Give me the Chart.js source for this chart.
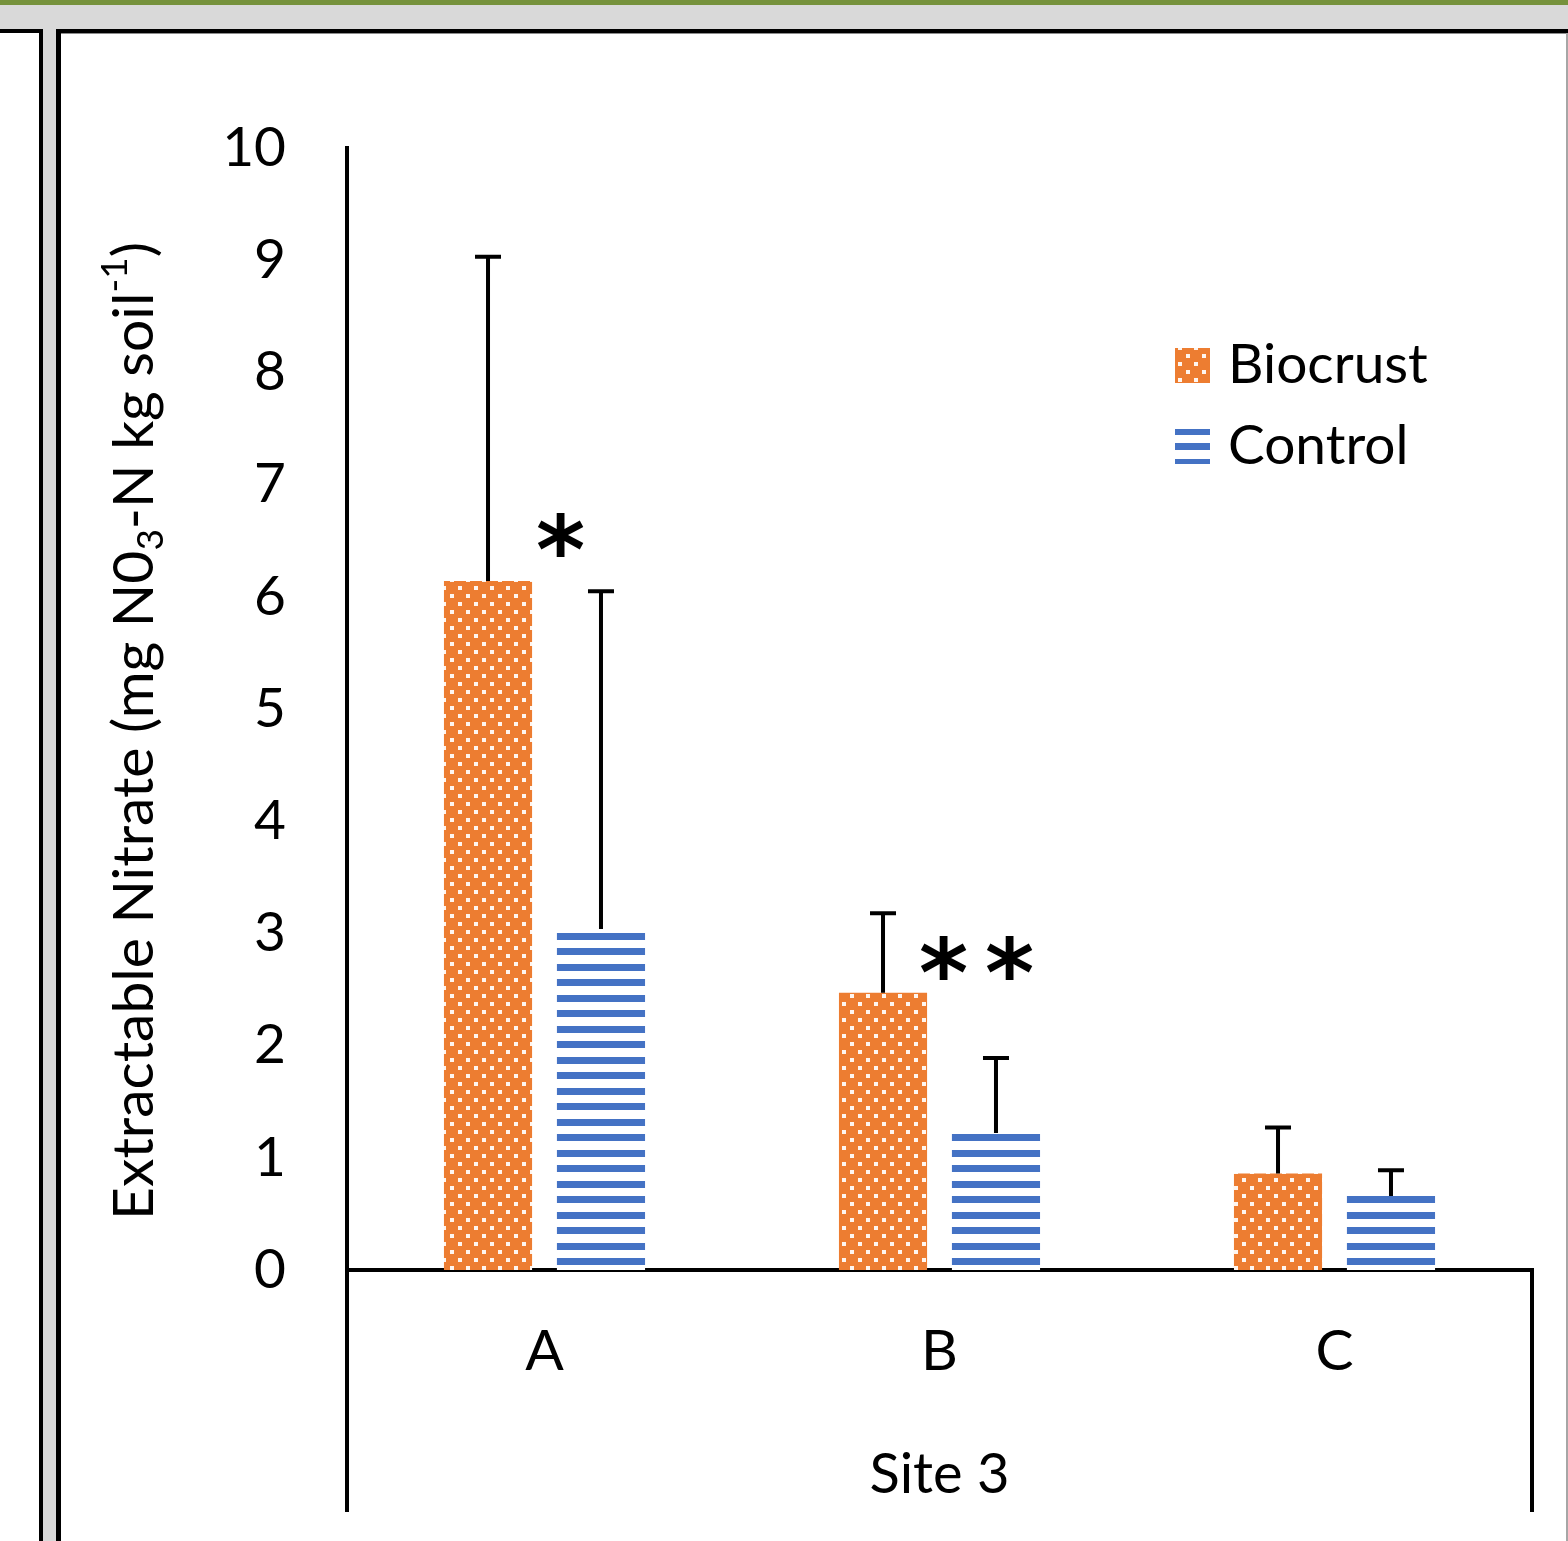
<!DOCTYPE html>
<html>
<head>
<meta charset="utf-8">
<script src="https://cdn.jsdelivr.net/npm/chart.js@4.4.1/dist/chart.umd.min.js"></script>
<style>
  html, body { margin: 0; padding: 0; background: #fff; }
  body { width: 1568px; height: 1541px; position: relative; overflow: hidden; }
  #chart { position: absolute; left: 0; top: 0; }
  .frame { position: absolute; }
</style>
</head>
<body>
<canvas id="chart" width="1568" height="1541"></canvas>
<!-- window frame around the chart -->
<div class="frame" style="left:0;top:0;width:1568px;height:5px;background:#76923c"></div>
<div class="frame" style="left:0;top:5px;width:1568px;height:24px;background:#d9d9d9"></div>
<div class="frame" style="left:0;top:29px;width:43px;height:4px;background:#000"></div>
<div class="frame" style="left:56px;top:29px;width:1512px;height:4px;background:#000"></div>
<div class="frame" style="left:61px;top:33px;width:1507px;height:1px;background:#8c8c8c"></div>
<div class="frame" style="left:39px;top:29px;width:4px;height:1512px;background:#000"></div>
<div class="frame" style="left:43px;top:5px;width:13px;height:1536px;background:#d9d9d9"></div>
<div class="frame" style="left:56px;top:29px;width:5px;height:1512px;background:#000"></div>
<div class="frame" style="left:1566px;top:33px;width:2px;height:1508px;background:#a6a6a6"></div>

<script>
// Chart data
const categories = ['A', 'B', 'C'];
const groupLabel = 'Site 3';
const biocrust = [6.14, 2.47, 0.86];
const biocrustErr = [2.89, 0.71, 0.41];
const control = [3.04, 1.22, 0.66];
const controlErr = [3.01, 0.67, 0.23];
const sigMarks = ['*', '**', ''];
const sigLevels = [6.53, 2.76, 0];
const yTicks = [0, 1, 2, 3, 4, 5, 6, 7, 8, 9, 10];

const ORANGE = '#ED7D31';
const BLUE = '#4472C4';
const FONT = 'Lato';

// Orange with small white dots
function dotPattern(ctx) {
  const c = document.createElement('canvas');
  c.width = 16; c.height = 16;
  const g = c.getContext('2d');
  g.fillStyle = ORANGE;
  g.fillRect(0, 0, 16, 16);
  g.fillStyle = 'rgba(255,255,255,0.92)';
  g.fillRect(2, 2, 4, 4);
  g.fillRect(10, 10, 4, 4);
  return ctx.createPattern(c, 'repeat');
}

// Blue horizontal stripes on white
function stripePattern(ctx) {
  const c = document.createElement('canvas');
  c.width = 4; c.height = 31;
  const g = c.getContext('2d');
  g.fillStyle = '#fff';
  g.fillRect(0, 0, 4, 31);
  g.fillStyle = BLUE;
  g.fillRect(0, 3, 4, 7);
  g.fillRect(0, 18, 4, 7);
  return ctx.createPattern(c, 'repeat');
}

// Upper error bars
const errorBars = {
  id: 'errorBars',
  afterDatasetsDraw(chart) {
    const ctx = chart.ctx;
    const yScale = chart.scales.y;
    const errs = [biocrustErr, controlErr];
    ctx.save();
    ctx.strokeStyle = '#000';
    ctx.lineWidth = 4;
    chart.data.datasets.forEach((ds, i) => {
      chart.getDatasetMeta(i).data.forEach((bar, j) => {
        const top = yScale.getPixelForValue(ds.data[j] + errs[i][j]);
        ctx.beginPath();
        ctx.moveTo(bar.x, bar.y);
        ctx.lineTo(bar.x, top);
        ctx.moveTo(bar.x - 13, top);
        ctx.lineTo(bar.x + 13, top);
        ctx.stroke();
      });
    });
    ctx.restore();
  }
};

// Significance asterisks
const sigPlugin = {
  id: 'sigMarks',
  afterDatasetsDraw(chart) {
    const ctx = chart.ctx;
    const xs = chart.scales.x, ys = chart.scales.y;
    ctx.save();
    ctx.fillStyle = '#000';
    ctx.font = 'bold 94px "DejaVu Sans"';
    ctx.textAlign = 'center';
    ctx.textBaseline = 'alphabetic';
    const m = ctx.measureText('*');
    const shift = (m.actualBoundingBoxAscent - m.actualBoundingBoxDescent) / 2;
    sigMarks.forEach((mark, i) => {
      if (!mark) return;
      const n = mark.length;
      const cx = xs.getPixelForValue(i) + 16 + (n - 1) * 21;
      const cy = ys.getPixelForValue(sigLevels[i]);
      for (let k = 0; k < n; k++) {
        ctx.fillText('*', cx + (k - (n - 1) / 2) * 66, cy + shift - 2);
      }
    });
    ctx.restore();
  }
};

// Legend inside the plot, top right
const insideLegend = {
  id: 'insideLegend',
  afterDraw(chart) {
    const { ctx, chartArea } = chart;
    const x = chartArea.right - 357;
    const base = chartArea.top + 235;
    ctx.save();
    ctx.font = '55px ' + FONT;
    ctx.textBaseline = 'alphabetic';
    ctx.textAlign = 'left';
    chart.data.datasets.forEach((ds, i) => {
      const b = base + i * 81;
      // shift the pattern so the swatch starts on a full stripe
      ctx.save();
      ctx.translate(0, i * 22);
      ctx.fillStyle = ds.backgroundColor;
      ctx.fillRect(x, b - 35 - i * 22, 35, 35);
      ctx.restore();
      ctx.fillStyle = '#000';
      ctx.fillText(ds.label, x + 53, b);
    });
    ctx.restore();
  }
};

// Rotated y title with sub/superscript, plus the axis extensions below the plot
const yTitle = {
  id: 'yTitle',
  afterDraw(chart) {
    const { ctx, chartArea } = chart;
    const F = 57, f = 37;
    const parts = [
      { t: 'Extractable Nitrate (mg N0', size: F, dy: 0 },
      { t: '3', size: f, dy: 10 },
      { t: '-N kg soil', size: F, dy: 0 },
      { t: '-1', size: f, dy: -26 },
      { t: ')', size: F, dy: 0 }
    ];
    ctx.save();
    let total = 0;
    parts.forEach(p => {
      ctx.font = p.size + 'px ' + FONT;
      p.w = ctx.measureText(p.t).width;
      total += p.w;
    });
    ctx.translate(153, 731);
    ctx.rotate(-Math.PI / 2);
    ctx.fillStyle = '#000';
    ctx.textBaseline = 'alphabetic';
    let x = -total / 2;
    parts.forEach(p => {
      ctx.font = p.size + 'px ' + FONT;
      ctx.fillText(p.t, x, p.dy);
      x += p.w;
    });
    ctx.restore();

    // multi-level category axis lines
    const bottom = chart.height - 29;
    ctx.save();
    ctx.strokeStyle = '#000';
    ctx.lineWidth = 4;
    ctx.beginPath();
    ctx.moveTo(chartArea.left, chartArea.bottom);
    ctx.lineTo(chartArea.left, bottom);
    ctx.moveTo(chartArea.right, chartArea.bottom - 2);
    ctx.lineTo(chartArea.right, bottom);
    ctx.stroke();
    ctx.restore();
  }
};

function draw() {
  const ctx = document.getElementById('chart').getContext('2d');
  Chart.defaults.font.family = FONT;
  Chart.defaults.color = '#000';

  new Chart(ctx, {
    type: 'bar',
    data: {
      labels: categories,
      datasets: [
        {
          label: 'Biocrust',
          data: biocrust,
          backgroundColor: dotPattern(ctx),
          borderWidth: 0,
          categoryPercentage: 0.572,
          barPercentage: 0.78
        },
        {
          label: 'Control',
          data: control,
          backgroundColor: stripePattern(ctx),
          borderWidth: 0,
          categoryPercentage: 0.572,
          barPercentage: 0.78
        }
      ]
    },
    options: {
      responsive: false,
      animation: false,
      layout: { padding: { top: 148, right: 36, left: 0, bottom: 0 } },
      plugins: {
        legend: { display: false },
        tooltip: { enabled: false }
      },
      scales: {
        x: {
          grid: { display: false },
          border: { display: true, color: '#000', width: 4 },
          ticks: { font: { size: 57 }, padding: 39 },
          title: {
            display: true,
            text: groupLabel,
            font: { size: 56 },
            padding: { top: 0, bottom: 32 }
          },
          afterFit(scale) { scale.height = 271; }
        },
        y: {
          min: 0,
          max: 10,
          grid: { display: false },
          border: { display: true, color: '#000', width: 4 },
          afterBuildTicks(scale) { scale.ticks = yTicks.map(v => ({ value: v })); },
          ticks: { font: { size: 55 }, padding: 53 },
          afterFit(scale) { scale.width = 347; }
        }
      }
    },
    plugins: [errorBars, sigPlugin, insideLegend, yTitle]
  });
}

document.fonts.load('54px ' + FONT).then(draw, draw);
</script>
</body>
</html>
